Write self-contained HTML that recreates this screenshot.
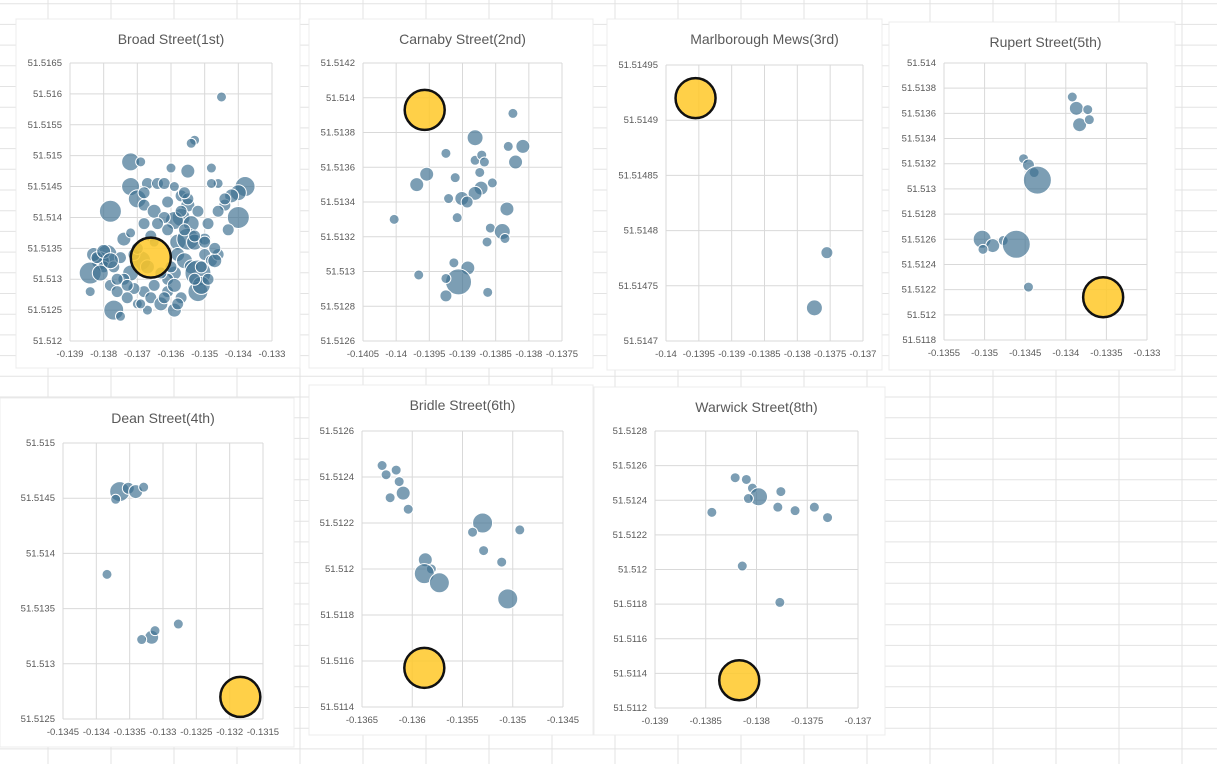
<!DOCTYPE html>
<html><head><meta charset="utf-8"><style>
html,body{margin:0;padding:0;background:#fff;}
svg{display:block;font-family:"Liberation Sans",sans-serif;}
</style></head><body>
<svg id="s" width="1217" height="764" viewBox="0 0 1217 764"></svg>
<script>
// ---- data (lon, lat, bubble size) ----
const broadX=[-0.1345,-0.1353,-0.1354,-0.1372,-0.1369,-0.1360,-0.1355,-0.1348,-0.1372,-0.1367,-0.1364,-0.1362,-0.1359,-0.1346,-0.1348,-0.1338,-0.1340,-0.1342,-0.1344,-0.1346,-0.1378,-0.1370,-0.1368,-0.1365,-0.1361,-0.1357,-0.1355,-0.1352,-0.1357,-0.1359,-0.1354,-0.1349,-0.1340,-0.1343,-0.1368,-0.1366,-0.1365,-0.1361,-0.1374,-0.1372,-0.1358,-0.1355,-0.1353,-0.1350,-0.1379,-0.1381,-0.1383,-0.1380,-0.1377,-0.1384,-0.1378,-0.1369,-0.1372,-0.1374,-0.1368,-0.1371,-0.1358,-0.1356,-0.1354,-0.1350,-0.1348,-0.1346,-0.1347,-0.1352,-0.1359,-0.1361,-0.1384,-0.1373,-0.1370,-0.1366,-0.1363,-0.1361,-0.1359,-0.1357,-0.1359,-0.1352,-0.1351,-0.1377,-0.1375,-0.1367,-0.1369,
-0.1382,-0.1380,-0.1376,-0.1375,-0.1371,-0.1367,-0.1363,-0.1360,-0.1356,-0.1353,-0.1350,-0.1362,-0.1364,-0.1357,-0.1355,-0.1351,-0.1349,-0.1376,-0.1373,-0.1365,-0.1362,-0.1358,-0.1353,-0.1347,-0.1370,-0.1368,-0.1381,-0.1378,-0.1356,-0.1344];
const broadY=[51.51595,51.51525,51.5152,51.5149,51.5149,51.5148,51.51475,51.5148,51.5145,51.51455,51.51455,51.51455,51.5145,51.51455,51.51455,51.5145,51.5144,51.51435,51.5142,51.5141,51.5141,51.5143,51.5142,51.5141,51.51425,51.51435,51.5142,51.5141,51.5140,51.51395,51.5139,51.5139,51.5140,51.5138,51.5139,51.5137,51.5136,51.5138,51.51365,51.51375,51.5136,51.51365,51.5136,51.51365,51.5134,51.5133,51.5134,51.5132,51.5132,51.5131,51.5129,51.5133,51.5131,51.5130,51.5128,51.51285,51.5134,51.5133,51.5132,51.5134,51.5133,51.5134,51.5133,51.5131,51.5131,51.5130,51.5128,51.5127,51.5126,51.5127,51.5126,51.5128,51.5129,51.5127,51.5125,51.5128,51.5129,51.5125,51.5124,51.5125,51.5126,
51.51335,51.51345,51.5130,51.51335,51.5134,51.5132,51.5131,51.5132,51.5138,51.5137,51.5136,51.5140,51.5139,51.5141,51.5143,51.5132,51.5130,51.5128,51.5129,51.5129,51.5127,51.5126,51.5130,51.5135,51.5135,51.5144,51.5131,51.5133,51.5144,51.5143];
const broadR=[5,5,5,9,5,5,7,5,9,6,6,6,5,5,5,10,8,7,6,6,11,9,6,7,6,6,7,6,9,9,8,6,11,6,6,6,5,6,7,5,8,11,8,6,10,9,7,6,6,11,6,10,8,6,6,6,7,8,7,6,6,6,7,13,7,6,5,6,5,6,7,6,7,6,7,10,9,10,5,5,5,
6,7,6,6,6,7,6,6,6,6,6,6,6,6,6,6,6,6,6,6,6,6,6,6,6,6,8,8,6,6];
const broadHi=[-0.1366,51.51335];

const carnX=[-0.13824,-0.13881,-0.13925,-0.13831,-0.13809,-0.13881,-0.13871,-0.13867,-0.13820,-0.13954,-0.13969,-0.13911,-0.13874,-0.13855,-0.13872,-0.13881,-0.13901,-0.13893,-0.13921,-0.13833,-0.14003,-0.13908,-0.13858,-0.13840,-0.13836,-0.13863,-0.13913,-0.13892,-0.13906,-0.13925,-0.13925,-0.13966,-0.13862];
const carnY=[51.51391,51.51377,51.51368,51.51372,51.51372,51.51364,51.51367,51.51363,51.51363,51.51356,51.5135,51.51354,51.51357,51.51351,51.51348,51.51345,51.51342,51.5134,51.51342,51.51336,51.5133,51.51331,51.51325,51.51323,51.51319,51.51317,51.51305,51.51302,51.51294,51.51296,51.51286,51.51298,51.51288];
const carnR=[5,8,5,5,7,5,5,5,7,7,7,5,5,5,7,7,7,6,5,7,5,5,5,8,5,5,5,7,13,5,6,5,5];
const carnHi=[-0.13957,51.51393];

const marlX=[-0.13755,-0.13774];
const marlY=[51.51478,51.51473];
const marlR=[6,8];
const marlHi=[-0.13955,51.51492];

const rupX=[-0.13392,-0.13387,-0.13373,-0.13383,-0.13371,-0.13452,-0.13446,-0.13439,-0.13435,-0.13503,-0.13490,-0.13502,-0.13477,-0.13461,-0.13446];
const rupY=[51.51373,51.51364,51.51363,51.51351,51.51355,51.51324,51.51319,51.51313,51.51307,51.5126,51.51255,51.51252,51.51259,51.51256,51.51222];
const rupR=[5,7,5,7,5,5,6,5,14,9,7,5,5,14,5];
const rupHi=[-0.13354,51.51214];

const deanX=[-0.13365,-0.13352,-0.13341,-0.13329,-0.13371,-0.13384,-0.13317,-0.13312,-0.13332,-0.13277];
const deanY=[51.51456,51.51459,51.51456,51.5146,51.51449,51.51381,51.51324,51.5133,51.51322,51.51336];
const deanR=[10,6,7,5,5,5,7,5,5,5];
const deanHi=[-0.13184,51.5127];

const bridX=[-0.13630,-0.13626,-0.13616,-0.13613,-0.13609,-0.13622,-0.13604,-0.1353,-0.1354,-0.13493,-0.13529,-0.13511,-0.13587,-0.13581,-0.13588,-0.13573,-0.13505];
const bridY=[51.51245,51.51241,51.51243,51.51238,51.51233,51.51231,51.51226,51.5122,51.51216,51.51217,51.51208,51.51203,51.51204,51.512,51.51198,51.51194,51.51187];
const bridR=[5,5,5,5,7,5,5,10,5,5,5,5,7,5,10,10,10];
const bridHi=[-0.13588,51.51157];

const warX=[-0.13821,-0.1381,-0.13804,-0.13798,-0.13808,-0.13776,-0.13844,-0.13779,-0.13762,-0.13743,-0.13730,-0.13814,-0.13777];
const warY=[51.51253,51.51252,51.51247,51.51242,51.51241,51.51245,51.51233,51.51236,51.51234,51.51236,51.5123,51.51202,51.51181];
const warR=[5,5,5,9,5,5,5,5,5,5,5,5,5];
const warHi=[-0.13817,51.51136];

// ---- tick labels ----
const broadXT=["-0.139","-0.138","-0.137","-0.136","-0.135","-0.134","-0.133"];
const broadYT=["51.512","51.5125","51.513","51.5135","51.514","51.5145","51.515","51.5155","51.516","51.5165"];
const carnXT=["-0.1405","-0.14","-0.1395","-0.139","-0.1385","-0.138","-0.1375"];
const carnYT=["51.5126","51.5128","51.513","51.5132","51.5134","51.5136","51.5138","51.514","51.5142"];
const marlXT=["-0.14","-0.1395","-0.139","-0.1385","-0.138","-0.1375","-0.137"];
const marlYT=["51.5147","51.51475","51.5148","51.51485","51.5149","51.51495"];
const rupXT=["-0.1355","-0.135","-0.1345","-0.134","-0.1335","-0.133"];
const rupYT=["51.5118","51.512","51.5122","51.5124","51.5126","51.5128","51.513","51.5132","51.5134","51.5136","51.5138","51.514"];
const deanXT=["-0.1345","-0.134","-0.1335","-0.133","-0.1325","-0.132","-0.1315"];
const deanYT=["51.5125","51.513","51.5135","51.514","51.5145","51.515"];
const bridXT=["-0.1365","-0.136","-0.1355","-0.135","-0.1345"];
const bridYT=["51.5114","51.5116","51.5118","51.512","51.5122","51.5124","51.5126"];
const warXT=["-0.139","-0.1385","-0.138","-0.1375","-0.137"];
const warYT=["51.5112","51.5114","51.5116","51.5118","51.512","51.5122","51.5124","51.5126","51.5128"];

const NS="http://www.w3.org/2000/svg";
const svg=document.getElementById('s');
function mk(tag,attrs,parent){const e=document.createElementNS(NS,tag);for(const k in attrs)e.setAttribute(k,attrs[k]);(parent||svg).appendChild(e);return e;}

const bg=mk('g',{});


for(let x=48-63*1;x<1217;x+=63){mk('line',{x1:x,y1:0,x2:x,y2:764,stroke:'#e3e3e3','stroke-width':1},bg);}
for(let y=3.7;y<764;y+=20.7){mk('line',{x1:0,y1:y,x2:1217,y2:y,stroke:'#e3e3e3','stroke-width':1},bg);}

function chart(name,title,box,plot,xs,ys,rs,hi,xt,yt){
  const g=mk('g',{});
  
  
  mk('rect',{x:box[0],y:box[1],width:box[2]-box[0],height:box[3]-box[1],fill:'#fff',stroke:'#ececec'},g);
  const t=mk('text',{x:(plot[0]+plot[2])/2,y:box[1]+25,'text-anchor':'middle','font-size':14,fill:'#595959'},g);
  t.textContent=title;
  
  
  const x0=parseFloat(xt[0]),x1=parseFloat(xt[xt.length-1]),y0=parseFloat(yt[0]),y1=parseFloat(yt[yt.length-1]);
  const X=v=>plot[0]+(v-x0)/(x1-x0)*(plot[2]-plot[0]);
  const Y=v=>plot[3]-(v-y0)/(y1-y0)*(plot[3]-plot[1]);
  xt.forEach(l=>{const px=X(parseFloat(l));
    mk('line',{x1:px,y1:plot[1],x2:px,y2:plot[3],stroke:'#d9d9d9'},g);
    const e=mk('text',{x:px,y:plot[3]+16,'text-anchor':'middle','font-size':9.5,fill:'#595959'},g);e.textContent=l;
    
    });
  yt.forEach(l=>{const py=Y(parseFloat(l));
    mk('line',{x1:plot[0],y1:py,x2:plot[2],y2:py,stroke:'#d9d9d9'},g);
    const e=mk('text',{x:plot[0]-8,y:py+3,'text-anchor':'end','font-size':9.5,fill:'#595959'},g);e.textContent=l;
    
    });
  xs.forEach((v,i)=>{const c=mk('circle',{cx:X(v),cy:Y(ys[i]),r:rs[i],fill:'rgba(62,112,145,0.68)',stroke:'#fff','stroke-width':1},g);
    
    });
  const h=mk('circle',{cx:X(hi[0]),cy:Y(hi[1]),r:20,fill:'rgba(255,200,40,0.85)',stroke:'#111','stroke-width':2.5},g);
  
  
}
chart('broad-street','Broad Street(1st)',[16,19,300,368],[70,63,272,341],broadX,broadY,broadR,broadHi,broadXT,broadYT);
chart('carnaby-street','Carnaby Street(2nd)',[309,19,593,368],[363,63,562,341],carnX,carnY,carnR,carnHi,carnXT,carnYT);
chart('marlborough-mews','Marlborough Mews(3rd)',[607,19,882,370],[666,65,863,341],marlX,marlY,marlR,marlHi,marlXT,marlYT);
chart('rupert-street','Rupert Street(5th)',[889,22,1175,370],[944,63,1147,340],rupX,rupY,rupR,rupHi,rupXT,rupYT);
chart('dean-street','Dean Street(4th)',[0,398,294,747],[63,443,263,719],deanX,deanY,deanR,deanHi,deanXT,deanYT);
chart('bridle-street','Bridle Street(6th)',[309,385,593,735],[362,431,563,707],bridX,bridY,bridR,bridHi,bridXT,bridYT);
chart('warwick-street','Warwick Street(8th)',[594,387,885,735],[655,431,858,708],warX,warY,warR,warHi,warXT,warYT);
</script>
</body></html>
